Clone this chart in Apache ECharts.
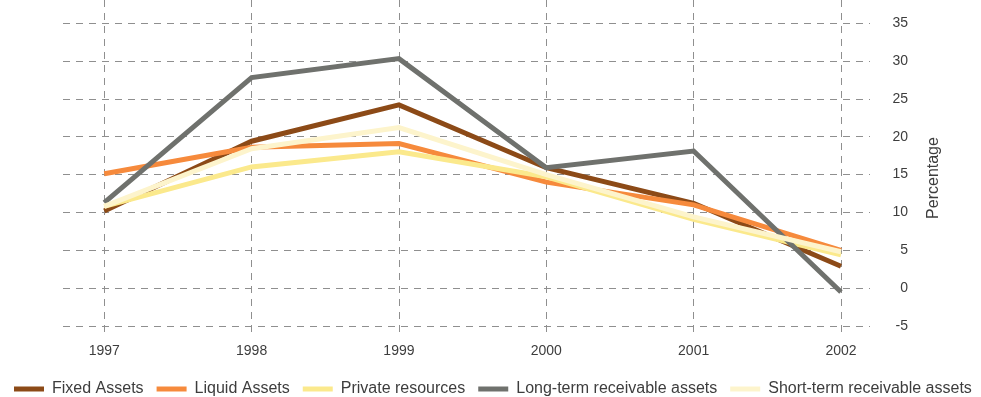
<!DOCTYPE html>
<html>
<head>
<meta charset="utf-8">
<script src="https://cdn.jsdelivr.net/npm/echarts@6/dist/echarts.min.js"></script>
<style>
  html, body { margin: 0; padding: 0; background: #fff; }
  #chart { width: 981px; height: 397px; }
</style>
</head>
<body>
<div id="chart"></div>
<script>
"use strict";
// data
var years = [1997, 1998, 1999, 2000, 2001, 2002];
var yTicks = [-5, 0, 5, 10, 15, 20, 25, 30, 35];
var fixedAssets = [10.2, 19.4, 24.2, 15.9, 11.2, 2.9];
var liquidAssets = [15.1, 18.6, 19.1, 14.0, 11.0, 5.0];
var privateResources = [10.8, 16.0, 18.0, 14.7, 9.1, 4.4];
var longTerm = [11.3, 27.8, 30.3, 15.9, 18.1, -0.5];
var shortTerm = [10.8, 18.4, 21.2, 15.0, 9.4, 4.8];

var names = ["Fixed Assets", "Liquid Assets", "Private resources",
  "Long-term receivable assets", "Short-term receivable assets"];
var colors = ["#8c4a17", "#f68a3c", "#fbe98c", "#6f716d", "#fdf4cc"];
var values = [fixedAssets, liquidAssets, privateResources, longTerm, shortTerm];
// drawing order: pale lines first, then the darker ones on top
var order = [4, 2, 3, 0, 1];

function pairs(arr) {
  return years.map(function (y, i) { return [y, arr[i]]; });
}

var chart = echarts.init(document.getElementById("chart"));
var dash = { color: "#8f8f8f", type: [7, 6], width: 1 };

var series = order.map(function (k) {
  return {
    name: names[k],
    type: "line",
    data: pairs(values[k]),
    symbol: "none",
    lineStyle: { width: 5, color: colors[k], cap: "butt", join: "miter" },
    itemStyle: { color: colors[k] },
    z: 3 + k
  };
});

chart.setOption({
  animation: false,
  textStyle: { fontFamily: "Liberation Sans, Arial, sans-serif" },
  grid: { left: 63, right: 111, top: 0, bottom: 59 },
  xAxis: {
    type: "value",
    min: 1996.72,
    max: 2002.197,
    axisLine: { show: false },
    axisTick: { show: false, customValues: years },
    axisLabel: {
      customValues: years,
      color: "#3d3d3d",
      fontSize: 14,
      margin: 6,
      formatter: function (v) { return String(Math.round(v)); }
    },
    splitLine: { show: true, lineStyle: dash }
  },
  yAxis: {
    type: "value",
    position: "right",
    min: -6.58,
    max: 38.04,
    axisLine: { show: false },
    axisTick: { show: false, customValues: yTicks },
    axisLabel: {
      customValues: yTicks,
      color: "#3d3d3d",
      fontSize: 14,
      align: "right",
      margin: 38
    },
    splitLine: { show: true, lineStyle: dash },
    name: "Percentage",
    nameLocation: "middle",
    nameRotate: 90,
    nameGap: 56,
    nameTextStyle: { color: "#3d3d3d", fontSize: 16, padding: [0, 18, 0, 0] }
  },
  legend: {
    left: 9,
    top: 376,
    icon: "rect",
    itemWidth: 30,
    itemHeight: 5,
    itemGap: 13,
    data: names,
    textStyle: { color: "#3d3d3d", fontSize: 16, padding: [0, 0, 0, 3] }
  },
  series: series
});
</script>
</body>
</html>
